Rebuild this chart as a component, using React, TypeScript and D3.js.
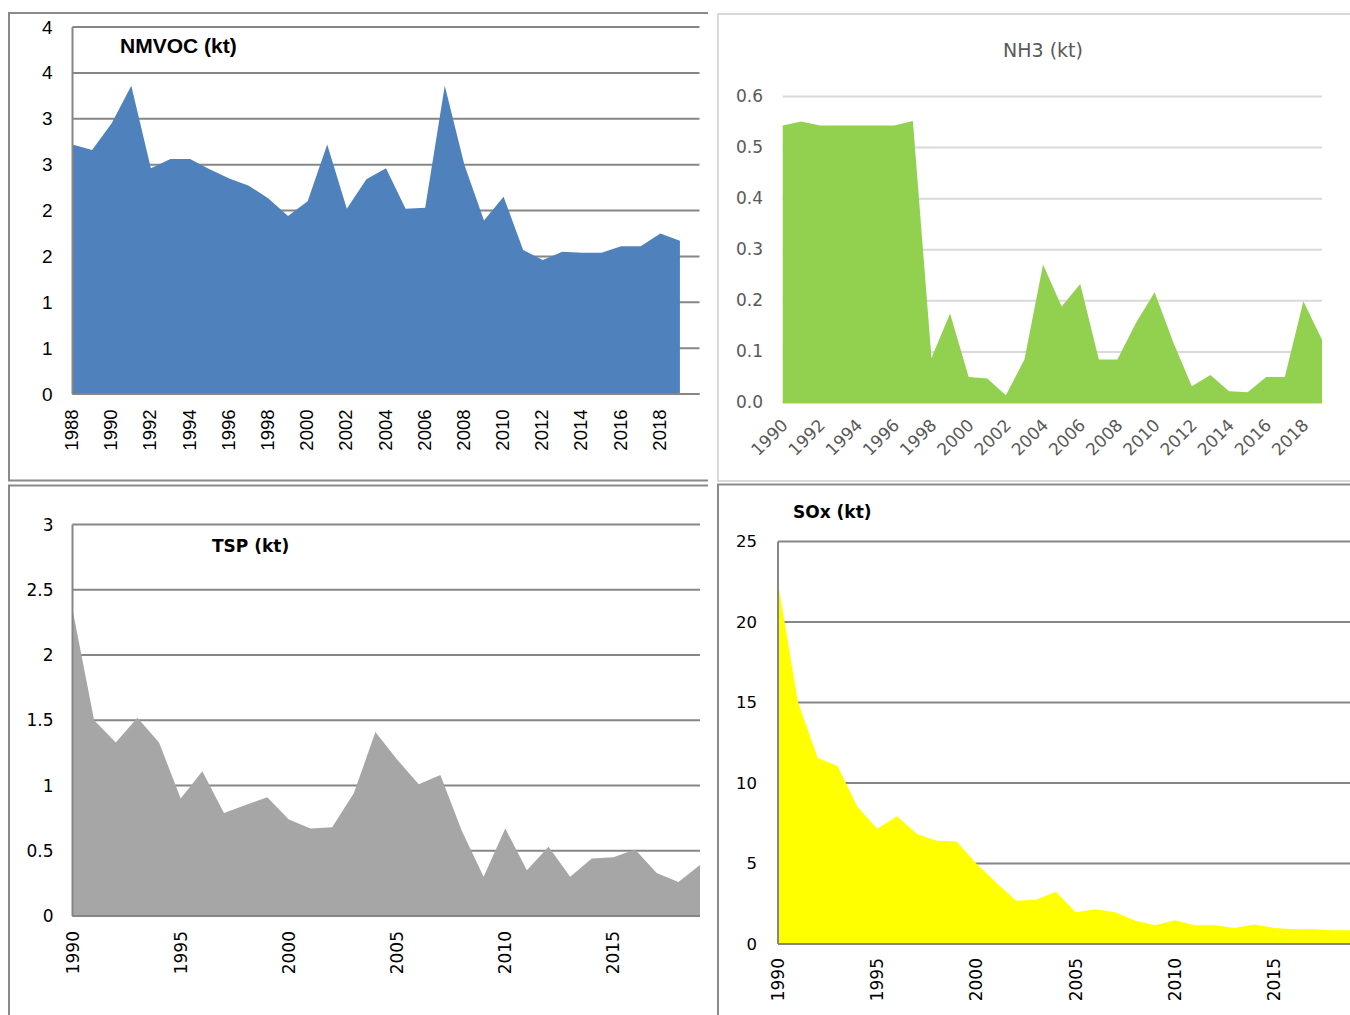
import React from "react";
import * as d3 from "d3";

// ---------- data ----------
const nmvocYears = [1988, 1989, 1990, 1991, 1992, 1993, 1994, 1995, 1996, 1997, 1998, 1999, 2000, 2001, 2002, 2003, 2004, 2005, 2006, 2007, 2008, 2009, 2010, 2011, 2012, 2013, 2014, 2015, 2016, 2017, 2018, 2019];
const nmvocValues = [2.72, 2.66, 2.95, 3.36, 2.46, 2.56, 2.56, 2.45, 2.35, 2.27, 2.13, 1.94, 2.1, 2.72, 2.02, 2.34, 2.46, 2.02, 2.03, 3.36, 2.5, 1.89, 2.15, 1.57, 1.46, 1.55, 1.54, 1.54, 1.61, 1.61, 1.75, 1.67];
const nmvocXLabels = [1988, 1990, 1992, 1994, 1996, 1998, 2000, 2002, 2004, 2006, 2008, 2010, 2012, 2014, 2016, 2018];
const nmvocYTicks = [0, 0.5, 1, 1.5, 2, 2.5, 3, 3.5, 4];
const nmvocYLabels = ["0", "1", "1", "2", "2", "3", "3", "4", "4"];

const years = [1990, 1991, 1992, 1993, 1994, 1995, 1996, 1997, 1998, 1999, 2000, 2001, 2002, 2003, 2004, 2005, 2006, 2007, 2008, 2009, 2010, 2011, 2012, 2013, 2014, 2015, 2016, 2017, 2018, 2019];
const nh3Values = [0.543, 0.551, 0.543, 0.543, 0.543, 0.543, 0.543, 0.552, 0.088, 0.175, 0.051, 0.048, 0.015, 0.085, 0.271, 0.189, 0.233, 0.085, 0.085, 0.157, 0.217, 0.119, 0.033, 0.055, 0.023, 0.021, 0.051, 0.051, 0.199, 0.124];
const nh3XLabels = [1990, 1992, 1994, 1996, 1998, 2000, 2002, 2004, 2006, 2008, 2010, 2012, 2014, 2016, 2018];
const nh3YTicks = [0, 0.1, 0.2, 0.3, 0.4, 0.5, 0.6];

const tspValues = [2.35, 1.5, 1.33, 1.52, 1.33, 0.9, 1.11, 0.79, 0.85, 0.91, 0.74, 0.67, 0.68, 0.94, 1.41, 1.2, 1.01, 1.08, 0.65, 0.3, 0.67, 0.35, 0.53, 0.3, 0.44, 0.45, 0.51, 0.33, 0.26, 0.39];
const tspYTicks = [0, 0.5, 1, 1.5, 2, 2.5, 3];
const tspYLabels = ["0", "0.5", "1", "1.5", "2", "2.5", "3"];

const soxValues = [22.46, 15.04, 11.55, 11.06, 8.52, 7.16, 7.94, 6.84, 6.42, 6.36, 4.98, 3.81, 2.69, 2.75, 3.24, 1.97, 2.16, 1.97, 1.44, 1.17, 1.48, 1.17, 1.17, 1.0, 1.21, 1.0, 0.91, 0.91, 0.85, 0.85];
const soxYTicks = [0, 5, 10, 15, 20, 25];

const fiveYearLabels = [1990, 1995, 2000, 2005, 2010, 2015];

// ---------- styles ----------
const ARIAL = "'Liberation Sans', Arial, sans-serif";
const DEJAVU = "'DejaVu Sans', sans-serif";
const DARK_GRID = "#868686";
const LIGHT_GRID = "#d9d9d9";
const BORDER = "#8a8a8a";

function areaPath(xs: number[], vs: number[], x: any, y: any) {
  const gen = d3
    .area<number>()
    .x((_, i) => x(xs[i]))
    .y0(y(0))
    .y1((d) => y(d));
  return gen(vs) || "";
}

export default function App() {
  // NMVOC
  const x1 = d3.scaleLinear().domain([1988, 2020]).range([72.5, 699.5]);
  const y1 = d3.scaleLinear().domain([0, 4]).range([394, 27]);
  // NH3
  const x2 = d3.scaleLinear().domain([1990, 2019]).range([782.7, 1322]);
  const y2 = d3.scaleLinear().domain([0, 0.6]).range([403, 96.5]);
  // TSP
  const x3 = d3.scaleLinear().domain([1990, 2019]).range([72.5, 700]);
  const y3 = d3.scaleLinear().domain([0, 3]).range([916, 524.5]);
  // SOx
  const x4 = d3.scaleLinear().domain([1990, 2019]).range([778, 1353.5]);
  const y4 = d3.scaleLinear().domain([0, 25]).range([944, 541.5]);

  const fmt1 = d3.format(".1f");

  return (
    <svg
      width={1350}
      height={1015}
      style={{ position: "absolute", left: 0, top: 0, background: "#fff" }}
    >
      <rect x={0} y={0} width={1350} height={1015} fill="#fff" />

      {/* ---------- Panel borders ---------- */}
      <path d="M708,13 H9 V480.5 H708" fill="none" stroke={BORDER} strokeWidth={2} />
      <path d="M1352,14 H718 V481 H1352" fill="none" stroke={LIGHT_GRID} strokeWidth={2} />
      <path d="M708,485.5 H9 V1020" fill="none" stroke={BORDER} strokeWidth={2} />
      <path d="M1352,484.5 H718 V1020" fill="none" stroke={BORDER} strokeWidth={2} />

      {/* ---------- NMVOC ---------- */}
      <g>
        {nmvocYTicks.map((t) => (
          <line key={t} x1={x1(1988)} x2={x1(2020)} y1={y1(t)} y2={y1(t)} stroke={DARK_GRID} strokeWidth={2} />
        ))}
        <path d={areaPath(nmvocYears, nmvocValues, x1, y1)} fill="#4f81bd" />
        <line x1={x1(1988)} x2={x1(1988)} y1={y1(4)} y2={y1(0)} stroke={DARK_GRID} strokeWidth={2} />
        <line x1={x1(1988)} x2={x1(2020)} y1={y1(0)} y2={y1(0)} stroke={DARK_GRID} strokeWidth={2} />
        {nmvocYTicks.map((t, i) => (
          <text key={t} x={52.5} y={y1(t)} textAnchor="end" dominantBaseline="central" fontFamily={ARIAL} fontSize={19} fill="#000">
            {nmvocYLabels[i]}
          </text>
        ))}
        {nmvocXLabels.map((yr) => (
          <text
            key={yr}
            transform={`translate(${x1(yr) - 1},${409.5}) rotate(-90)`}
            textAnchor="end"
            dominantBaseline="central"
            fontFamily={ARIAL}
            fontSize={18.5}
            fill="#000"
          >
            {yr}
          </text>
        ))}
        <text x={120} y={53} fontFamily={ARIAL} fontWeight="bold" fontSize={21} fill="#000">
          NMVOC (kt)
        </text>
      </g>

      {/* ---------- NH3 ---------- */}
      <g>
        {nh3YTicks.map((t) => (
          <line key={t} x1={x2(1990)} x2={x2(2019)} y1={y2(t)} y2={y2(t)} stroke={LIGHT_GRID} strokeWidth={2} />
        ))}
        <path d={areaPath(years, nh3Values, x2, y2)} fill="#92d050" />
        {nh3YTicks.map((t) => (
          <text key={t} x={763} y={y2(t) - 1} textAnchor="end" dominantBaseline="central" fontFamily={DEJAVU} fontSize={17} fill="#595959">
            {fmt1(t)}
          </text>
        ))}
        {nh3XLabels.map((yr) => (
          <text
            key={yr}
            transform={`translate(${x2(yr) + 2},${422}) rotate(-45)`}
            textAnchor="end"
            dominantBaseline="central"
            fontFamily={DEJAVU}
            fontSize={17}
            fill="#595959"
          >
            {yr}
          </text>
        ))}
        <text x={1043} y={50} textAnchor="middle" dominantBaseline="central" fontFamily={DEJAVU} fontSize={19} fill="#595959">
          NH3 (kt)
        </text>
      </g>

      {/* ---------- TSP ---------- */}
      <g>
        {tspYTicks.map((t) => (
          <line key={t} x1={x3(1990)} x2={x3(2019)} y1={y3(t)} y2={y3(t)} stroke={DARK_GRID} strokeWidth={2} />
        ))}
        <path d={areaPath(years, tspValues, x3, y3)} fill="#a6a6a6" />
        <line x1={x3(1990)} x2={x3(1990)} y1={y3(3)} y2={y3(0)} stroke={DARK_GRID} strokeWidth={2} />
        <line x1={x3(1990)} x2={x3(2019)} y1={y3(0)} y2={y3(0)} stroke={DARK_GRID} strokeWidth={2} />
        {tspYTicks.map((t, i) => (
          <text key={t} x={53.5} y={y3(t)} textAnchor="end" dominantBaseline="central" fontFamily={DEJAVU} fontSize={17} fill="#000">
            {tspYLabels[i]}
          </text>
        ))}
        {fiveYearLabels.map((yr) => (
          <text
            key={yr}
            transform={`translate(${x3(yr)},${931}) rotate(-90)`}
            textAnchor="end"
            dominantBaseline="central"
            fontFamily={DEJAVU}
            fontSize={17}
            fill="#000"
          >
            {yr}
          </text>
        ))}
        <text x={212} y={546} dominantBaseline="central" fontFamily={DEJAVU} fontWeight="bold" fontSize={17} fill="#000">
          TSP (kt)
        </text>
      </g>

      {/* ---------- SOx ---------- */}
      <g>
        {soxYTicks.map((t) => (
          <line key={t} x1={x4(1990)} x2={x4(2019)} y1={y4(t)} y2={y4(t)} stroke={DARK_GRID} strokeWidth={2} />
        ))}
        <path d={areaPath(years, soxValues, x4, y4)} fill="#ffff00" />
        <line x1={x4(1990)} x2={x4(1990)} y1={y4(25)} y2={y4(0)} stroke={DARK_GRID} strokeWidth={2} />
        <line x1={x4(1990)} x2={x4(2019)} y1={y4(0)} y2={y4(0)} stroke={DARK_GRID} strokeWidth={2} />
        {soxYTicks.map((t) => (
          <text key={t} x={757} y={y4(t)} textAnchor="end" dominantBaseline="central" fontFamily={DEJAVU} fontSize={16.5} fill="#000">
            {t}
          </text>
        ))}
        {fiveYearLabels.map((yr) => (
          <text
            key={yr}
            transform={`translate(${x4(yr)},${958}) rotate(-90)`}
            textAnchor="end"
            dominantBaseline="central"
            fontFamily={DEJAVU}
            fontSize={17}
            fill="#000"
          >
            {yr}
          </text>
        ))}
        <text x={793} y={511.5} dominantBaseline="central" fontFamily={DEJAVU} fontWeight="bold" fontSize={17} fill="#000">
          SOx (kt)
        </text>
      </g>
    </svg>
  );
}
